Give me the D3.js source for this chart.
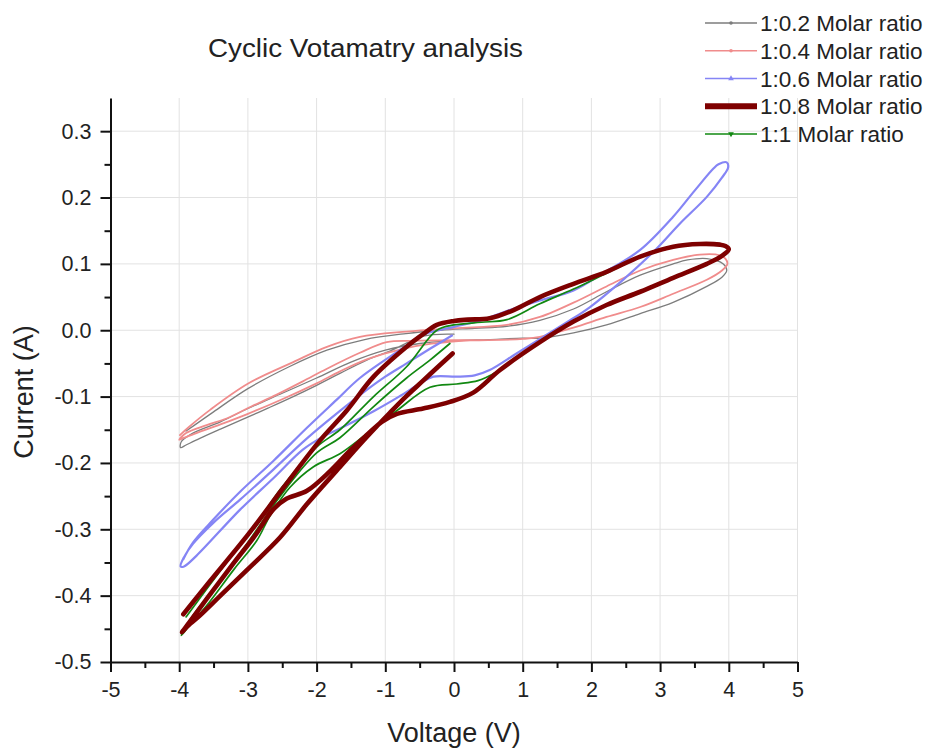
<!DOCTYPE html>
<html>
<head>
<meta charset="utf-8">
<script src="https://cdn.jsdelivr.net/npm/d3@7"></script>
<style>
  html, body { margin: 0; padding: 0; background: #fff; }
  svg { display: block; }
  text { font-family: Arial, "Liberation Sans", sans-serif; fill: #222; }
</style>
</head>
<body>
<div id="chart"></div>
<script>
// ---- data: [voltage (V), current (A)] ----
// each scan starts near 0 V, sweeps to -4 V, up to +4 V and back to -4 V

const seriesNames = ['1:0.2 Molar ratio', '1:0.4 Molar ratio', '1:0.6 Molar ratio', '1:0.8 Molar ratio', '1:1 Molar ratio'];

const ratio02 = [
  [0,-0.006],[-0.45,-0.009],[-0.9,-0.03],[-1.27,-0.045],[-1.66,-0.065],[-2.0,-0.083],[-2.34,-0.1],[-2.7,-0.117],
  [-3.07,-0.134],[-3.4,-0.149],[-3.7,-0.163],[-3.9,-0.173],[-3.98,-0.177],
  [-3.97,-0.168],[-3.8,-0.155],[-3.4,-0.138],[-3.0,-0.118],[-2.5,-0.095],[-2.0,-0.072],[-1.5,-0.048],[-1.0,-0.03],
  [-0.5,-0.02],[0,-0.016],[0.5,-0.014],[1.0,-0.012],[1.25,-0.012],[1.74,-0.004],[2.22,0.008],[2.71,0.025],
  [3.19,0.042],[3.68,0.066],[3.9,0.08],[3.97,0.09],
  [3.92,0.1],[3.68,0.108],[3.4,0.106],[3.19,0.1],[2.71,0.083],[2.22,0.058],[1.74,0.032],[1.25,0.015],[0.77,0.006],
  [0.3,0.003],[-0.2,0.0],[-0.7,-0.005],[-1.3,-0.014],[-1.85,-0.03],[-2.4,-0.055],[-3.0,-0.088],[-3.5,-0.123],[-3.9,-0.152]
];

const ratio04 = [
  [0.3,-0.015],[-0.1,-0.018],[-0.45,-0.022],[-0.93,-0.033],[-1.27,-0.044],[-1.66,-0.062],[-2.0,-0.08],[-2.5,-0.104],
  [-3.0,-0.126],[-3.4,-0.142],[-3.75,-0.155],[-3.95,-0.163],[-4.0,-0.165],
  [-3.9,-0.155],[-3.6,-0.143],[-3.31,-0.133],[-2.95,-0.115],[-2.58,-0.097],[-2.2,-0.077],[-1.85,-0.058],[-1.37,-0.034],
  [-0.98,-0.018],[-0.6,-0.016],[0,-0.015],[0.5,-0.015],[1.01,-0.013],[1.25,-0.01],[1.74,0.004],[2.22,0.02],
  [2.71,0.035],[3.19,0.055],[3.68,0.076],[3.9,0.09],[3.98,0.1],
  [3.95,0.108],[3.87,0.113],[3.58,0.114],[3.19,0.106],[2.71,0.09],[2.22,0.066],[1.83,0.046],[1.25,0.02],[0.77,0.008],
  [0,0.003],[-0.69,-0.002],[-1.37,-0.01],[-1.85,-0.025],[-2.34,-0.048],[-2.99,-0.08],[-3.55,-0.12],[-3.85,-0.145],[-3.99,-0.158]
];

const ratio06 = [
  [-0.03,-0.008],[-0.35,-0.028],[-0.69,-0.05],[-1.0,-0.07],[-1.27,-0.09],[-1.7,-0.125],[-2.14,-0.163],[-2.63,-0.21],
  [-3.11,-0.255],[-3.5,-0.29],[-3.8,-0.322],[-3.93,-0.342],[-3.98,-0.356],
  [-3.93,-0.356],[-3.75,-0.34],[-3.11,-0.27],[-2.63,-0.223],[-2.2,-0.18],[-1.9,-0.16],[-1.66,-0.148],[-1.17,-0.122],
  [-0.8,-0.1],[-0.49,-0.08],[-0.3,-0.07],[0.04,-0.07],[0.3,-0.068],[0.52,-0.06],[0.91,-0.035],[1.3,-0.01],[1.69,0.015],
  [1.98,0.035],[2.46,0.076],[2.93,0.121],[3.29,0.161],[3.68,0.201],[3.9,0.23],[3.99,0.245],[3.97,0.253],
  [3.85,0.25],[3.78,0.244],[3.5,0.21],[3.19,0.171],[2.71,0.121],[2.17,0.086],[1.74,0.06],[1.25,0.045],[0.8,0.03],
  [0.4,0.015],[0,0.005],[-0.45,-0.007],[-0.79,-0.03],[-1.37,-0.072],[-1.71,-0.105],[-2.14,-0.147],[-2.63,-0.197],
  [-3.11,-0.243],[-3.5,-0.285],[-3.8,-0.32],[-3.94,-0.345]
];

const ratio08 = [
  [-0.02,-0.035],[-0.2,-0.052],[-0.45,-0.076],[-0.7,-0.1],[-0.93,-0.124],[-1.27,-0.161],[-1.66,-0.206],[-2.14,-0.262],
  [-2.53,-0.312],[-3.0,-0.36],[-3.4,-0.4],[-3.7,-0.43],[-3.9,-0.448],[-3.96,-0.455],
  [-3.85,-0.44],[-3.6,-0.405],[-3.2,-0.35],[-2.9,-0.31],[-2.63,-0.27],[-2.44,-0.254],[-2.14,-0.242],[-1.8,-0.212],
  [-1.5,-0.18],[-1.27,-0.158],[-1.05,-0.138],[-0.83,-0.126],[-0.45,-0.118],[-0.06,-0.108],[0.28,-0.094],[0.67,-0.06],
  [1.25,-0.018],[1.74,0.013],[2.22,0.038],[2.71,0.058],[3.19,0.079],[3.68,0.1],[3.9,0.112],[4.0,0.122],
  [3.95,0.127],[3.87,0.129],[3.58,0.13],[3.19,0.126],[2.71,0.111],[2.22,0.088],[1.74,0.07],[1.25,0.05],[0.86,0.03],
  [0.52,0.018],[0.2,0.016],[0,0.014],[-0.25,0.008],[-0.45,-0.006],[-0.69,-0.025],[-1.17,-0.07],[-1.56,-0.121],
  [-1.95,-0.166],[-2.48,-0.237],[-2.99,-0.307],[-3.55,-0.378],[-3.8,-0.41],[-3.94,-0.428]
];

const ratio10 = [
  [-0.06,-0.02],[-0.35,-0.045],[-0.69,-0.072],[-1.17,-0.115],[-1.66,-0.162],[-2.0,-0.185],[-2.53,-0.25],[-3.0,-0.32],
  [-3.5,-0.39],[-3.8,-0.43],[-3.97,-0.46],
  [-3.85,-0.445],[-3.6,-0.415],[-3.2,-0.36],[-2.87,-0.317],[-2.68,-0.28],[-2.39,-0.237],[-2.05,-0.206],[-1.66,-0.186],
  [-1.27,-0.156],[-0.83,-0.121],[-0.35,-0.086],[0.04,-0.081],[0.35,-0.076],[0.62,-0.063],[1.25,-0.018],[1.74,0.013],
  [2.22,0.038],[2.71,0.058],[3.19,0.079],[3.68,0.1],[3.9,0.112],[4.0,0.122],
  [3.95,0.127],[3.58,0.129],[3.19,0.125],[2.71,0.11],[2.22,0.086],[1.74,0.062],[1.25,0.04],[0.77,0.016],[0.4,0.012],
  [0,0.008],[-0.25,0.0],[-0.69,-0.055],[-1.17,-0.1],[-1.66,-0.15],[-2.0,-0.176],[-2.53,-0.24],[-2.82,-0.283],
  [-3.2,-0.335],[-3.6,-0.39],[-3.9,-0.432]
];

const xTicks = [-5,-4,-3,-2,-1,0,1,2,3,4,5];
const xTickLabels = ['-5','-4','-3','-2','-1','0','1','2','3','4','5'];
const yTicks = [-0.5,-0.4,-0.3,-0.2,-0.1,0,0.1,0.2,0.3];
const yTickLabels = ['-0.5','-0.4','-0.3','-0.2','-0.1','0.0','0.1','0.2','0.3'];

// ---- layout ----
const W = 928, H = 749;
const plot = {left: 110.5, right: 797.5, top: 98, bottom: 662};

const svg = d3.select('#chart').append('svg')
  .attr('width', W)
  .attr('height', H);

const x = d3.scaleLinear().domain([-5, 5]).range([plot.left, plot.right]);
const y = d3.scaleLinear().domain([-0.5, 0.35]).range([plot.bottom, plot.top]);

// grid
const grid = svg.append('g').attr('stroke', '#e2e2e2').attr('stroke-width', 1);
grid.selectAll('.vg').data(xTicks.slice(1)).enter().append('line')
  .attr('x1', d => x(d)).attr('x2', d => x(d))
  .attr('y1', plot.top).attr('y2', plot.bottom);
grid.selectAll('.hg').data(yTicks.slice(1)).enter().append('line')
  .attr('x1', plot.left).attr('x2', plot.right)
  .attr('y1', d => y(d)).attr('y2', d => y(d));

// curves
const line = d3.line()
  .x(d => x(d[0]))
  .y(d => y(d[1]))
  .curve(d3.curveCatmullRom.alpha(0.5));

const series = [
  {name: seriesNames[0], data: ratio02, color: '#7d7d7d', width: 1.3, marker: 'dot'},
  {name: seriesNames[1], data: ratio04, color: '#f08c8c', width: 1.8, marker: 'dot'},
  {name: seriesNames[2], data: ratio06, color: '#8585f5', width: 2.2, marker: 'up'},
  {name: seriesNames[3], data: ratio08, color: '#7e0000', width: 4.6, marker: 'none'},
  {name: seriesNames[4], data: ratio10, color: '#118811', width: 1.7, marker: 'down'}
];

// green under the thick dark red trace
const drawOrder = [0, 1, 2, 4, 3];
svg.append('g').selectAll('path')
  .data(drawOrder.map(i => series[i]))
  .enter().append('path')
  .attr('d', d => line(d.data))
  .attr('fill', 'none')
  .attr('stroke', d => d.color)
  .attr('stroke-width', d => d.width)
  .attr('stroke-linejoin', 'round')
  .attr('stroke-linecap', 'round');

// axes
const xAxis = svg.append('g')
  .attr('transform', 'translate(0,' + plot.bottom + ')')
  .call(d3.axisBottom(x).tickValues(xTicks).tickFormat((d, i) => xTickLabels[i])
    .tickSize(10).tickSizeOuter(0).tickPadding(10));
svg.append('g')
  .attr('transform', 'translate(0,' + plot.bottom + ')')
  .call(d3.axisBottom(x).tickValues(d3.range(-4.5, 5, 1)).tickFormat('').tickSize(6).tickSizeOuter(0))
  .select('.domain').remove();

const yAxis = svg.append('g')
  .attr('transform', 'translate(' + plot.left + ',0)')
  .call(d3.axisLeft(y).tickValues(yTicks).tickFormat((d, i) => yTickLabels[i])
    .tickSize(10).tickSizeOuter(0).tickPadding(9));
svg.append('g')
  .attr('transform', 'translate(' + plot.left + ',0)')
  .call(d3.axisLeft(y).tickValues(d3.range(-0.45, 0.35, 0.1)).tickFormat('').tickSize(6).tickSizeOuter(0))
  .select('.domain').remove();

svg.selectAll('.domain, .tick line').attr('stroke', '#111').attr('stroke-width', 2);
[xAxis, yAxis].forEach(a => a.selectAll('text')
  .style('font-size', '21.5px')
  .style('font-family', 'Arial, "Liberation Sans", sans-serif')
  .attr('fill', '#222'));

// titles
svg.append('text')
  .attr('x', 365.5).attr('y', 57)
  .attr('text-anchor', 'middle')
  .attr('textLength', 315).attr('lengthAdjust', 'spacingAndGlyphs')
  .style('font-size', '25.5px')
  .text('Cyclic Votamatry analysis');

svg.append('text')
  .attr('x', 454).attr('y', 742)
  .attr('text-anchor', 'middle')
  .style('font-size', '27px')
  .text('Voltage (V)');

svg.append('text')
  .attr('transform', 'translate(33,392) rotate(-90)')
  .attr('text-anchor', 'middle')
  .style('font-size', '27px')
  .text('Current (A)');

// legend
const legendY = d3.scalePoint().domain(seriesNames).range([23, 134]);
const legend = svg.append('g');
const rows = legend.selectAll('g').data(series).enter().append('g')
  .attr('transform', d => 'translate(0,' + legendY(d.name) + ')');
rows.append('line')
  .attr('x1', 705).attr('x2', 757)
  .attr('stroke', d => d.color)
  .attr('stroke-width', d => d.width > 3 ? 6 : 1.3);
rows.filter(d => d.marker === 'dot').append('circle')
  .attr('cx', 731).attr('r', 1.8).attr('fill', d => d.color);
rows.filter(d => d.marker === 'up' || d.marker === 'down').append('path')
  .attr('transform', d => 'translate(731,0)' + (d.marker === 'down' ? ' rotate(180)' : ''))
  .attr('d', d3.symbol().type(d3.symbolTriangle).size(14))
  .attr('fill', d => d.color);
rows.append('text')
  .attr('x', 760).attr('dy', '0.36em')
  .style('font-size', '22.5px')
  .text(d => d.name);
</script>
</body>
</html>
